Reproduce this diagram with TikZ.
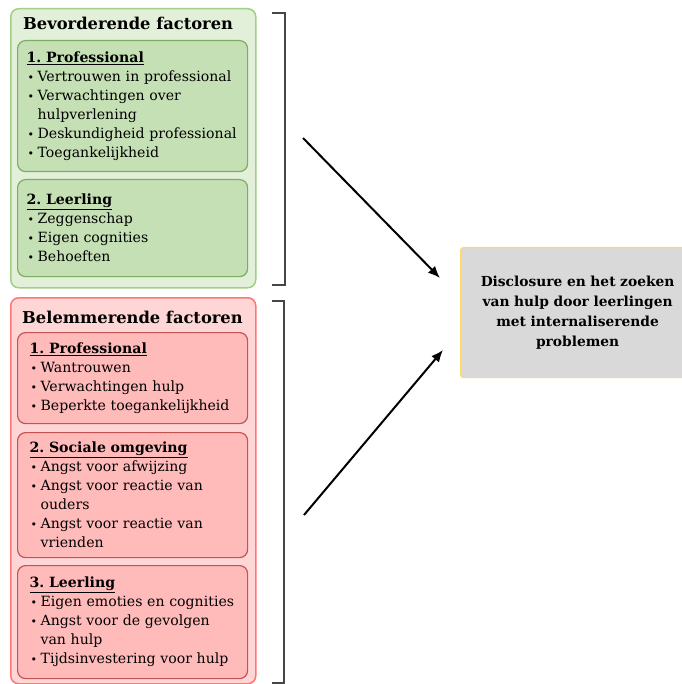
\documentclass[tikz,border=0pt]{standalone}
\usepackage{fontspec}
\setmainfont{DejaVu Serif}
\usetikzlibrary{arrows.meta}

\definecolor{gfill}{RGB}{226,240,217}
\definecolor{gline}{RGB}{163,207,133}
\definecolor{ginner}{RGB}{197,224,180}
\definecolor{gdark}{RGB}{126,172,98}
\definecolor{rfill}{RGB}{255,214,214}
\definecolor{rline}{RGB}{255,118,118}
\definecolor{rinner}{RGB}{255,186,186}
\definecolor{rdark}{RGB}{196,84,84}
\definecolor{tfill}{RGB}{217,217,217}
\definecolor{tline}{RGB}{255,217,102}
\definecolor{brack}{RGB}{70,70,70}

\newcommand{\itemfont}{\fontsize{14.1}{19}\selectfont\frenchspacing}
\newcommand{\kop}[1]{\textbf{\underline{#1}}}
\newcommand{\bul}[1]{\par\noindent\hangindent=11pt\hangafter=1\makebox[11pt][l]{\hspace{1pt}\fontsize{11}{11}\selectfont\textbullet}#1\par}

\begin{document}
\begin{tikzpicture}[x=1pt,y=-1pt,
  outbox/.style={rounded corners=8pt, line width=1.5pt, anchor=north west, inner sep=0pt, minimum width=245pt},
  inbox/.style={rounded corners=8pt, line width=1.2pt, anchor=north west, text width=212pt, inner xsep=9pt, inner ysep=0pt, align=left, font=\itemfont},
  redbox/.style={inbox, draw=rdark, fill=rinner, text width=206pt, inner xsep=12pt},
  maintitle/.style={anchor=base west, inner sep=0pt, font=\fontsize{16.3}{18}\selectfont\bfseries}]
\useasboundingbox (0,0) rectangle (681,684);
% bevorderende factoren
\node[outbox, draw=gline, fill=gfill, minimum height=279pt] (gbox) at (10,8) {};
\node[maintitle] (gtitle) at (23,30) {Bevorderende factoren};
\node[inbox, draw=gdark, fill=ginner, minimum height=131pt] (gprof) at (17,40) {\kop{1. Professional}
\bul{Vertrouwen in professional}
\bul{Verwachtingen over\newline hulpverlening}
\bul{Deskundigheid professional}
\bul{Toegankelijkheid}};
\node[inbox, draw=gdark, fill=ginner, minimum height=97pt] (gleer) at (17,179) {\kop{2. Leerling}
\bul{Zeggenschap}
\bul{Eigen cognities}
\bul{Behoeften}};
% belemmerende factoren
\node[outbox, draw=rline, fill=rfill, minimum height=386pt] (rbox) at (10,297) {};
\node[maintitle] (rtitle) at (22,323) {Belemmerende factoren};
\node[redbox, minimum height=91pt] (rprof) at (17,332) {\kop{1. Professional}
\bul{Wantrouwen}
\bul{Verwachtingen hulp}
\bul{Beperkte toegankelijkheid}};
\node[redbox, minimum height=125pt] (rsoc) at (17,432) {\kop{2. Sociale omgeving}
\bul{Angst voor afwijzing}
\bul{Angst voor reactie van\newline ouders}
\bul{Angst voor reactie van\newline vrienden}};
\node[redbox, minimum height=113pt] (rleer) at (17,565) {\kop{3. Leerling}
\bul{Eigen emoties en cognities}
\bul{Angst voor de gevolgen\newline van hulp}
\bul{Tijdsinvestering voor hulp}};
% uitkomst
\node[draw=tline, fill=tfill, line width=1.2pt, rounded corners=3pt, anchor=north west, minimum width=234pt, minimum height=130pt, text width=224pt, align=center, font=\fontsize{13.8}{20}\selectfont\bfseries] (uitkomst) at (460,247) {Disclosure en het zoeken\\van hulp door leerlingen\\met internaliserende\\problemen};
% haken
\draw[brack, line width=1.8pt] (272,13) -- (285,13) -- (285,285) -- (272,285);
\draw[brack, line width=1.8pt] (272,301) -- (284,301) -- (284,683) -- (272,683);
% pijlen
\coordinate (p1) at (303,138);
\coordinate (q1) at (440,278);
\coordinate (p2) at (304,515);
\coordinate (q2) at (443,350);
\draw[line width=2pt, -{Latex[length=12pt,width=10pt]}] (p1) -- (q1);
\draw[line width=2pt, -{Latex[length=12pt,width=10pt]}] (p2) -- (q2);
\end{tikzpicture}
\end{document}
